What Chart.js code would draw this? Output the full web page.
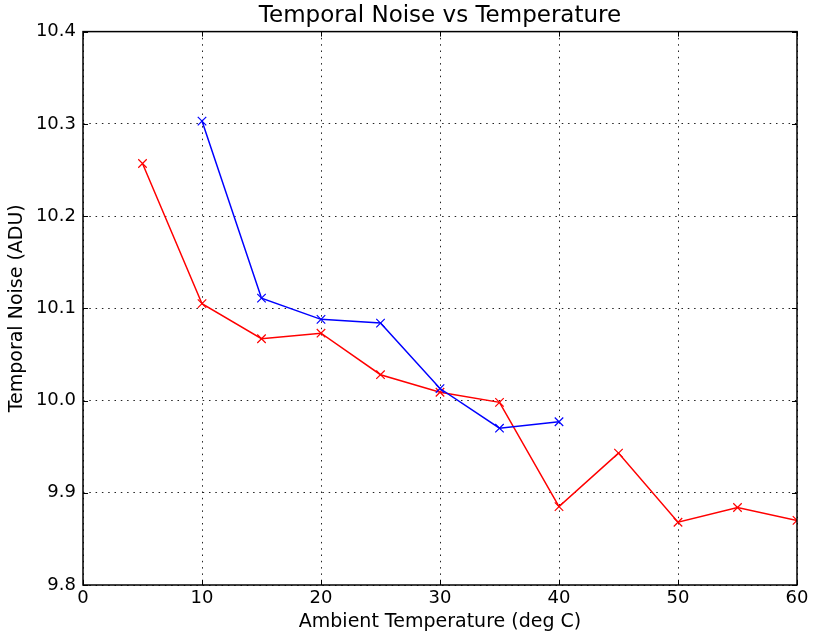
<!DOCTYPE html>
<html>
<head>
<meta charset="utf-8">
<script src="https://cdn.jsdelivr.net/npm/chart.js@4.4.0/dist/chart.umd.min.js"></script>
<style>
html,body{margin:0;padding:0;background:#fff;}
#wrap{width:814px;height:637px;}
</style>
</head>
<body>
<div id="wrap"><canvas id="c" width="814" height="637"></canvas></div>
<script>
const redTemps = [5, 10, 15, 20, 25, 30, 35, 40, 45, 50, 55, 60];
const redNoise = [10.257, 10.105, 10.067, 10.073, 10.028, 10.009, 9.998, 9.885, 9.943, 9.868, 9.884, 9.870];
const blueTemps = [10, 15, 20, 25, 30, 35, 40];
const blueNoise = [10.303, 10.111, 10.088, 10.084, 10.013, 9.970, 9.977];
const xTicks = [0, 10, 20, 30, 40, 50, 60];
const yTicks = [9.8, 9.9, 10.0, 10.1, 10.2, 10.3, 10.4];

const FONT = "'DejaVu Sans', sans-serif";

const framePlugin = {
  id: 'frame',
  afterDraw(chart) {
    const {ctx, chartArea: a, scales} = chart;
    ctx.save();
    ctx.strokeStyle = '#000';
    ctx.lineWidth = 1;
    ctx.setLineDash([]);
    const L = 5;
    ctx.beginPath();
    xTicks.forEach(v => {
      const px = Math.round(scales.x.getPixelForValue(v)) + 0.5;
      ctx.moveTo(px, a.bottom); ctx.lineTo(px, a.bottom - L);
      ctx.moveTo(px, a.top); ctx.lineTo(px, a.top + L);
    });
    yTicks.forEach(v => {
      const py = Math.round(scales.y.getPixelForValue(v)) + 0.5;
      ctx.moveTo(a.left, py); ctx.lineTo(a.left + L, py);
      ctx.moveTo(a.right, py); ctx.lineTo(a.right - L, py);
    });
    ctx.stroke();
    ctx.lineWidth = 1.5;
    ctx.strokeRect(a.left, a.top, a.right - a.left, a.bottom - a.top);
    ctx.restore();
  }
};

new Chart(document.getElementById('c'), {
  type: 'line',
  data: {
    datasets: [
      {
        data: blueTemps.map((t, i) => ({x: t, y: blueNoise[i]})),
        borderColor: '#0000ff',
        backgroundColor: '#0000ff',
        borderWidth: 1.5,
        pointStyle: 'crossRot',
        pointRadius: 6,
        pointBorderWidth: 1.2,
        tension: 0,
        fill: false
      },
      {
        data: redTemps.map((t, i) => ({x: t, y: redNoise[i]})),
        borderColor: '#ff0000',
        backgroundColor: '#ff0000',
        borderWidth: 1.5,
        pointStyle: 'crossRot',
        pointRadius: 6,
        pointBorderWidth: 1.2,
        tension: 0,
        fill: false
      }
    ]
  },
  plugins: [framePlugin],
  options: {
    responsive: false,
    animation: false,
    devicePixelRatio: 1,
    layout: {padding: {left: 0, right: 17, top: 0, bottom: 0}},
    plugins: {
      legend: {display: false},
      tooltip: {enabled: false},
      title: {
        display: true,
        text: 'Temporal Noise vs Temperature',
        color: '#000',
        fullSize: false,
        font: {family: FONT, size: 23, weight: 'normal', lineHeight: 1.2},
        padding: {top: 2, bottom: 2}
      }
    },
    scales: {
      x: {
        type: 'linear',
        min: 0, max: 60,
        afterFit(s) { s.height = 52; },
        afterBuildTicks(s) { s.ticks = xTicks.map(v => ({value: v})); },
        ticks: {
          color: '#000',
          font: {family: FONT, size: 18},
          padding: 3,
          maxRotation: 0,
          callback: v => String(v)
        },
        grid: {
          color: '#222',
          lineWidth: 1,
          drawTicks: false,
          tickLength: 0
        },
        border: {display: false, dash: [1.5, 4.8]},
        title: {
          display: true,
          text: 'Ambient Temperature (deg C)',
          color: '#000',
          font: {family: FONT, size: 19, lineHeight: 1.2},
          padding: {top: 0, bottom: 4}
        }
      },
      y: {
        type: 'linear',
        min: 9.8, max: 10.4,
        afterFit(s) { s.width = 83; },
        afterBuildTicks(s) { s.ticks = yTicks.map(v => ({value: v})); },
        ticks: {
          color: '#000',
          font: {family: FONT, size: 18},
          padding: 7,
          callback: v => Number(v).toFixed(1)
        },
        grid: {
          color: '#222',
          lineWidth: 1,
          drawTicks: false,
          tickLength: 0
        },
        border: {display: false, dash: [1.5, 4.8]},
        title: {
          display: true,
          text: 'Temporal Noise (ADU)',
          color: '#000',
          font: {family: FONT, size: 19, lineHeight: 1.2},
          padding: {top: 6, bottom: 0}
        }
      }
    }
  }
});
</script>
</body>
</html>
